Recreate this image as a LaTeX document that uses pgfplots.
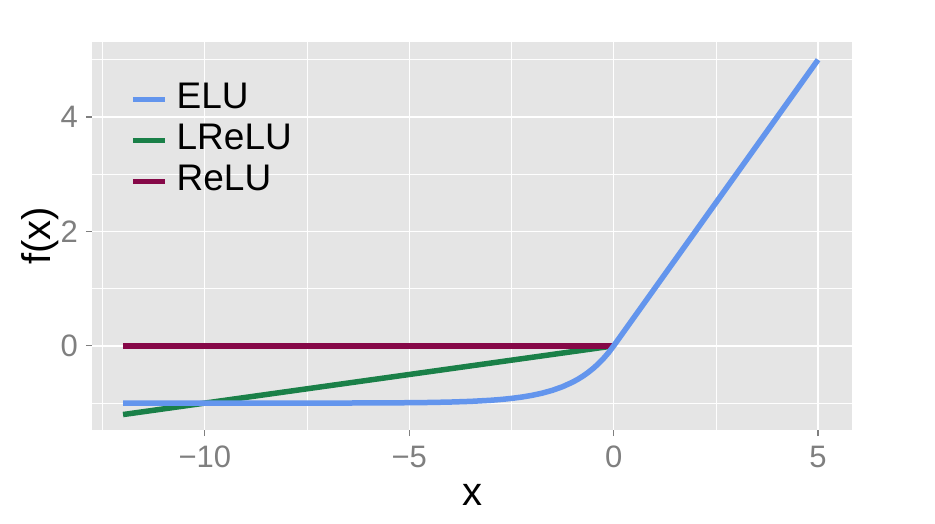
\documentclass[border=0pt]{standalone}
\usepackage{pgfplots}
\pgfplotsset{compat=1.18}
\usepackage{fontspec}
\setmainfont{Liberation Sans}
\definecolor{panel}{RGB}{229,229,229}
\definecolor{tickgrey}{RGB}{127,127,127}
\definecolor{eluc}{RGB}{99,149,237}
\definecolor{lreluc}{RGB}{26,128,72}
\definecolor{reluc}{RGB}{134,8,72}
\begin{document}
\begin{tikzpicture}
\begin{axis}[
  at={(0,0)}, anchor=south west,
  scale only axis, width=760pt, height=388pt,
  xmin=-12.76, xmax=5.83, ymin=-1.47, ymax=5.31,
  axis background/.style={fill=panel},
  axis x line*=bottom, axis y line*=left,
  axis line style={draw=none},
  xtick={-10,-5,0,5}, xticklabels={−10,−5,0,5},
  ytick={0,2,4}, yticklabels={0,2,4},
  minor xtick={-12.5,-7.5,-2.5,2.5}, minor ytick={-1,1,3,5},
  tick align=outside, major tick length=6pt, minor tick length=0pt,
  tick style={draw=tickgrey, line width=1.2pt},
  grid=both,
  major grid style={draw=white, line width=1.3pt},
  minor grid style={draw=white!96!panel, line width=0.6pt},
  xticklabel style={font=\fontsize{31}{34}\selectfont, text=tickgrey, anchor=north, inner sep=0pt, yshift=-10pt},
  yticklabel style={font=\fontsize{31}{34}\selectfont, text=tickgrey, anchor=east, inner sep=0pt, xshift=-8pt},
  xlabel={x}, ylabel={f(x)},
  xlabel style={font=\fontsize{40}{44}\selectfont, at={(axis description cs:0.5,-0.1675)}, anchor=center},
  ylabel style={font=\fontsize{40}{44}\selectfont, at={(axis description cs:-0.0684,0.5)}, anchor=center},
  legend cell align=left,
  legend style={draw=none, fill=none, at={(0.046,0.91)}, anchor=north west,
    font=\fontsize{37}{40}\selectfont, row sep=0pt,
    nodes={inner sep=1pt, text height=28pt, text depth=11pt},
    /tikz/every odd column/.append style={column sep=8pt}},
  legend image code/.code={\draw[#1, line width=5.5pt] (0pt,0pt) -- (32pt,0pt);},
  clip=false,
]
\addlegendimage{eluc}
\addlegendentry{ELU}
\addlegendimage{lreluc}
\addlegendentry{LReLU}
\addlegendimage{reluc}
\addlegendentry{ReLU}

\addplot[lreluc, line width=5.5pt, forget plot] coordinates {(-12,-1.2) (0,0)};
\addplot[reluc, line width=5.5pt, forget plot] coordinates {(-12,0) (0,0)};
\addplot[eluc, line width=5.5pt, line join=round, forget plot] coordinates {
(-12,-0.99999) (-11,-0.99998) (-10,-0.99995) (-9,-0.99988) (-8,-0.99966)
(-7,-0.99909) (-6,-0.99752) (-5,-0.99326) (-4.5,-0.98889) (-4,-0.98168)
(-3.5,-0.96980) (-3,-0.95021) (-2.75,-0.93607) (-2.5,-0.91792) (-2.25,-0.89460)
(-2,-0.86466) (-1.75,-0.82623) (-1.5,-0.77687) (-1.25,-0.71350) (-1,-0.63212)
(-0.875,-0.58314) (-0.75,-0.52763) (-0.625,-0.46474) (-0.5,-0.39347)
(-0.375,-0.31271) (-0.25,-0.22120) (-0.125,-0.11750) (0,0) (5,5)};
\end{axis}
\path[use as bounding box] (-92pt,-93pt) rectangle (843pt,430pt);
\end{tikzpicture}
\end{document}
